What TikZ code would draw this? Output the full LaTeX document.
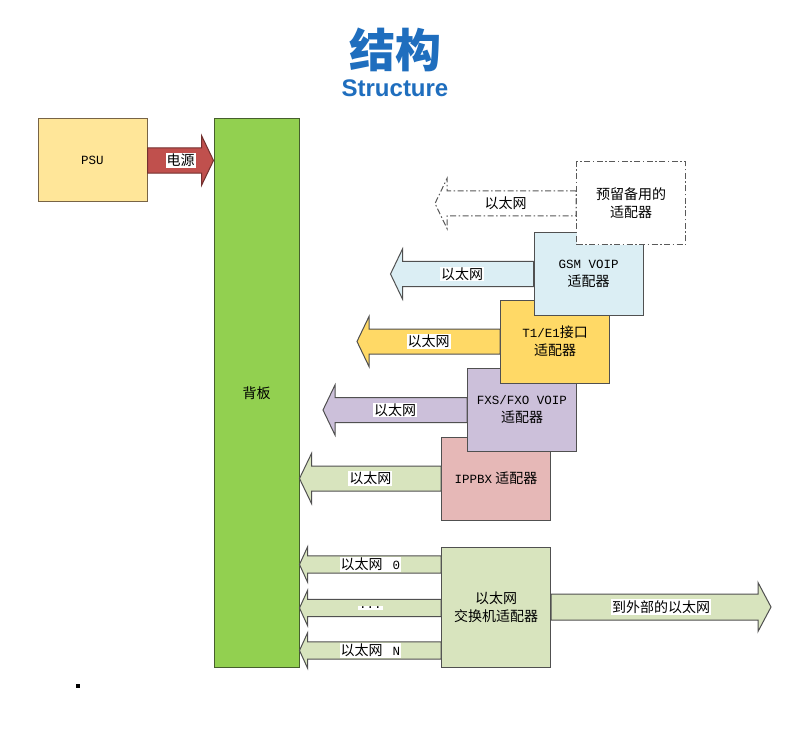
\documentclass[tikz,border=0pt]{standalone}
\usepackage{fontspec}
\setmainfont{Noto Sans CJK SC}
\newfontfamily\mono{Liberation Mono}
\newfontfamily\titlesans{Liberation Sans}
\usetikzlibrary{calc}

\definecolor{titleblue}{RGB}{31, 110, 190}
\definecolor{edgegray}{RGB}{80, 80, 80}
\definecolor{psuyellow}{RGB}{255, 230, 153}
\definecolor{psuedge}{RGB}{120, 100, 70}
\definecolor{bpgreen}{RGB}{146, 208, 80}
\definecolor{bpedge}{RGB}{70, 95, 45}
\definecolor{powerred}{RGB}{192, 80, 77}
\definecolor{gsmblue}{RGB}{219, 238, 244}
\definecolor{tyellow}{RGB}{255, 217, 102}
\definecolor{fxspurple}{RGB}{204, 192, 218}
\definecolor{pbxpink}{RGB}{230, 184, 183}
\definecolor{swolive}{RGB}{216, 228, 190}

\newcommand{\mtxt}[1]{{\mono\fontsize{12.5}{18}\selectfont #1}}

\begin{document}
\begin{tikzpicture}[
    x=1pt, y=-1pt,
    box/.style={rectangle, draw=edgegray, line width=1pt, minimum width=109pt,
                minimum height=83pt, align=center, inner sep=2pt,
                font=\fontsize{14}{18}\selectfont},
    lbl/.style={fill=white, inner sep=1pt, font=\fontsize{14}{16}\selectfont},
    bodyhw/.store in=\fatbody, headhw/.store in=\fathead, headlen/.store in=\fatlen,
    bodyhw=12.5pt, headhw=25pt, headlen=12pt,
    fat/.style={draw=edgegray, line width=1pt, line join=miter,
      to path={let \p1=(\tikztostart), \p2=(\tikztotarget),
        \p3=($(\tikztotarget)!\fatlen!(\tikztostart)$) in
        (\x1,\y1+\fatbody) -- (\x3,\y1+\fatbody) -- (\x3,\y1+\fathead) -- (\x2,\y2)
        -- (\x3,\y1-\fathead) -- (\x3,\y1-\fatbody) -- (\x1,\y1-\fatbody) -- cycle}},
    fatsmall/.style={fat, bodyhw=8.7pt, headhw=17.5pt, headlen=8pt},
    resline/.style={draw=black!65, line width=1pt,
                    dash pattern=on 6pt off 2.5pt on 1.5pt off 2.5pt},
  ]
    \fill[white] (0,0) rectangle (790,730);
    \useasboundingbox (0,0) rectangle (790,730);

    % Title
    \node[font=\fontsize{46}{50}\selectfont\bfseries, text=titleblue] (title) at (395,50) {结构};
    \node[font=\titlesans\bfseries\fontsize{24}{26}\selectfont, text=titleblue] (subtitle) at (395,88) {Structure};

    % Backplane and power
    \node[box, fill=bpgreen, draw=bpedge, minimum width=85pt, minimum height=548pt] (bp) at (256.5,393) {背板};
    \node[box, fill=psuyellow, draw=psuedge] (psu) at (92.5,160.5) {\mtxt{PSU}};
    \draw[fat, fill=powerred, draw=powerred!60!black, bodyhw=12.7pt] (psu.east) to (bp.west |- psu.east);
    \node[lbl] (pwrlbl) at ($(psu.east)!0.5!(bp.west |- psu.east)$) {电源};

    % Switch adapter
    \node[box, fill=swolive, minimum height=120pt] (sw) at (496,607) {以太网\\交换机适配器};
    \coordinate (e0) at ($(sw.west)+(0,-42.5)$);
    \coordinate (en) at ($(sw.west)+(0,1)$);
    \coordinate (eN) at ($(sw.west)+(0,43.5)$);
    \foreach \c/\t in {e0/以太网\hspace{10pt}\mtxt{0}, en/\mtxt{...}, eN/以太网\hspace{10pt}\mtxt{N}}
    {
      \draw[fatsmall, fill=swolive] (\c) to (bp.east |- \c);
      \node[lbl] at ($(\c)!0.5!(bp.east |- \c)$) {\t};
    }
    \coordinate (outtip) at ($(sw.east)+(220,0)$);
    \draw[fat, fill=swolive, bodyhw=13pt, headhw=24.5pt, headlen=13pt] (sw.east) to (outtip);
    \node[lbl] (outlbl) at ($(sw.east)!0.5!(outtip)$) {到外部的以太网};

    % Adapters, bottom to top
    \node[box, fill=pbxpink] (pbx) at (496,478.5) {\mtxt{IPPBX} 适配器};
    \draw[fat, fill=swolive] (pbx.west) to (bp.east |- pbx.west);
    \node[lbl] (pbxlbl) at ($(pbx.west)!0.5!(bp.east |- pbx.west)$) {以太网};

    \node[box, fill=fxspurple] (fxs) at (522,410) {\mtxt{FXS/FXO VOIP}\\适配器};
    \coordinate (fxstip) at ($(fxs.west)+(-144,0)$);
    \draw[fat, fill=fxspurple] (fxs.west) to (fxstip);
    \node[lbl] (fxslbl) at ($(fxs.west)!0.5!(fxstip)$) {以太网};

    \node[box, fill=tyellow] (tone) at (555,341.5) {\mtxt{T1/E1}接口\\适配器};
    \coordinate (tonetip) at ($(tone.west)+(-143,0)$);
    \draw[fat, fill=tyellow] (tone.west) to (tonetip);
    \node[lbl] (tonelbl) at ($(tone.west)!0.5!(tonetip)$) {以太网};

    \node[box, fill=gsmblue] (gsm) at (588.5,274) {\mtxt{GSM VOIP}\\适配器};
    \coordinate (gsmtip) at ($(gsm.west)+(-143,0)$);
    \draw[fat, fill=gsmblue] (gsm.west) to (gsmtip);
    \node[lbl] (gsmlbl) at ($(gsm.west)!0.5!(gsmtip)$) {以太网};

    \node[box, fill=white, resline] (rsv) at (631,203.5) {预留备用的\\适配器};
    \coordinate (rsvtip) at ($(rsv.west)+(-141,0)$);
    \draw[fat, resline, fill=white] (rsv.west) to (rsvtip);
    \node[lbl] (rsvlbl) at ($(rsv.west)!0.5!(rsvtip)$) {以太网};

    \fill (76,684) rectangle (80,688);
  \end{tikzpicture}
\end{document}
